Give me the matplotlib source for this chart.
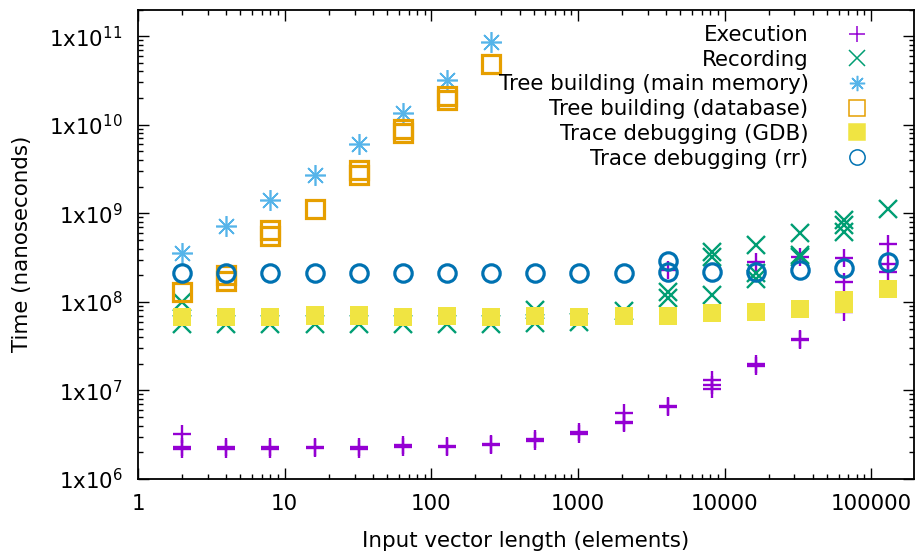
#!/usr/bin/env python

import numpy as np
import matplotlib
matplotlib.use("Agg")
from matplotlib import pyplot as plt
from matplotlib import ticker

# input vector lengths (2^1 .. 2^17)
lengths = [2, 4, 8, 16, 32, 64, 128, 256, 512, 1024, 2048, 4096, 8192,
           16384, 32768, 65536, 131072]

# repeated measurements per length, in nanoseconds
execution = [[2.27e6, 2.2e6, 3.26e6], [2.3e6, 2.2e6], [2.27e6, 2.2e6], [2.3e6, 2.25e6],
             [2.27e6, 2.2e6], [2.4e6, 2.3e6], [2.35e6, 2.3e6], [2.5e6, 2.45e6],
             [2.8e6, 2.7e6], [3.35e6, 3.25e6], [4.45e6, 4.3e6, 5.6e6],
             [6.75e6, 6.5e6, 2.3e8], [1.16e7, 1.05e7, 1.3e7], [2.0e7, 1.9e7, 2.8e8],
             [3.84e7, 3.7e7, 3.2e8], [7.7e7, 1.69e8, 3.1e8], [2.7e8, 2.18e8, 4.5e8]]
recording = [[5.6e7, 9.9e7], [5.6e7], [5.6e7], [5.6e7], [5.6e7], [5.6e7], [5.6e7],
             [5.6e7], [5.8e7, 8.0e7], [6.0e7], [7.9e7], [1.12e8, 1.3e8],
             [3.7e8, 3.2e8, 1.2e8], [4.4e8, 2.1e8, 1.8e8], [6.0e8, 3.4e8, 3.2e8],
             [8.4e8, 7.4e8, 6.2e8], [1.12e9]]
tree_mem = [[3.58e8], [7.2e8], [1.42e9], [2.7e9], [6.0e9], [1.35e10], [3.2e10], [8.5e10]]
tree_db = [[1.29e8], [1.7e8, 2.0e8], [5.6e8, 6.5e8], [1.12e9], [2.7e9, 3.1e9],
           [8.0e9, 9.0e9], [1.9e10, 2.1e10], [4.9e10]]
gdb = [[6.8e7], [6.8e7], [6.8e7], [7.1e7, 6.9e7], [7.1e7, 6.9e7], [6.75e7], [6.9e7],
       [6.75e7], [7.0e7], [6.75e7], [6.9e7], [6.9e7], [7.5e7], [7.7e7],
       [8.4e7, 8.2e7], [1.05e8, 9.5e7], [1.4e8]]
rr = [[2.13e8], [2.13e8], [2.13e8], [2.13e8], [2.13e8], [2.13e8], [2.13e8], [2.13e8],
      [2.13e8], [2.13e8], [2.13e8], [2.15e8, 2.9e8], [2.15e8], [2.2e8], [2.3e8],
      [2.4e8], [2.8e8]]

series = [
  ("Execution", execution, "#9400d3", "+", False),
  ("Recording", recording, "#009e73", "x", False),
  ("Tree building (main memory)", tree_mem, "#56b4e9", (8, 2, 0), False),
  ("Tree building (database)", tree_db, "#e69f00", "s", False),
  ("Trace debugging (GDB)", gdb, "#f0e442", "s", True),
  ("Trace debugging (rr)", rr, "#0072b2", "o", False),
]

def flatten(xs, runs):
  px, py = [], []
  for x, vals in zip(xs, runs):
    for v in vals:
      px.append(x)
      py.append(v)
  return px, py

def make_plot():
  plt.rcParams["font.family"] = "DejaVu Sans"
  plt.rcParams["font.size"] = 15.4
  fig = plt.figure(figsize=(9.15, 5.56), dpi=100)
  ax = fig.add_axes([138/915, 1-479/556, (914-138)/915, (479-9.5)/556])

  for name, runs, color, marker, filled in series:
    px, py = flatten(lengths, runs)
    if marker in ("s", "o"):
      if filled:
        ax.plot(px, py, linestyle="none", marker=marker, ms=13, mfc=color,
                mec=color, mew=0, label=name)
      else:
        ax.plot(px, py, linestyle="none", marker=marker, ms=12.5, mfc="none",
                mec=color, mew=2.3, label=name)
    elif marker == "+" or marker == "x":
      ax.plot(px, py, linestyle="none", marker=marker, ms=12.5, color=color,
              mew=1.7, label=name)
    else:
      # gnuplot style asterisk: thin 8-spoke star
      ax.plot(px, py, linestyle="none", marker=marker, ms=15, color=color,
              mew=1.2, label=name)

  ax.set_xscale("log")
  ax.set_yscale("log")
  ax.set_xlim(1, 1.96e5)
  ax.set_ylim(1e6, 2e11)

  ax.xaxis.set_major_locator(ticker.LogLocator(base=10, numticks=20))
  ax.xaxis.set_minor_locator(ticker.LogLocator(base=10, subs=range(2, 10), numticks=20))
  ax.yaxis.set_major_locator(ticker.LogLocator(base=10, numticks=20))
  ax.yaxis.set_minor_locator(ticker.LogLocator(base=10, subs=range(2, 10), numticks=20))
  ax.xaxis.set_major_formatter(ticker.FuncFormatter(lambda v, p: "%d" % round(v)))
  ax.yaxis.set_major_formatter(ticker.FuncFormatter(
    lambda v, p: r"1x10$^{%d}$" % round(np.log10(v))))
  ax.xaxis.set_minor_formatter(ticker.NullFormatter())
  ax.yaxis.set_minor_formatter(ticker.NullFormatter())

  ax.tick_params(which="both", direction="in", top=True, right=True, width=1)
  ax.tick_params(which="major", length=8)
  ax.tick_params(which="minor", length=3.6)
  ax.tick_params(axis="x", which="major", pad=11)
  ax.tick_params(axis="y", which="major", pad=11)
  for sp in ax.spines.values():
    sp.set_linewidth(1.3)

  ax.set_xlabel("Input vector length (elements)", labelpad=12)
  ax.set_ylabel("Time (nanoseconds)", labelpad=12)

  leg = ax.legend(loc="upper right", bbox_to_anchor=(0.94, 0.967), frameon=False,
                  markerfirst=False, numpoints=1, handlelength=1.0,
                  handletextpad=1.75, labelspacing=0.22, borderpad=0,
                  borderaxespad=0)
  for h in leg.legend_handles:
    h.set_markeredgewidth(1.1)
    h.set_markersize(11)

  fig.savefig("out.png", dpi=100)

if __name__ == '__main__':
  make_plot()
